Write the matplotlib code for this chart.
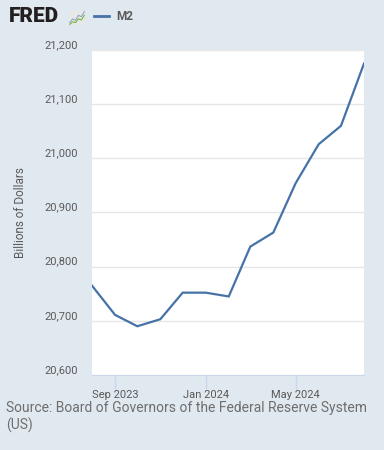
import matplotlib.pyplot as plt
import matplotlib.transforms as mtransforms
from datetime import date

plt.rcParams["font.family"] = ["Roboto", "DejaVu Sans"]

months = [date(2023, 8, 1), date(2023, 9, 1), date(2023, 10, 1), date(2023, 11, 1),
          date(2023, 12, 1), date(2024, 1, 1), date(2024, 2, 1), date(2024, 3, 1),
          date(2024, 4, 1), date(2024, 5, 1), date(2024, 6, 1), date(2024, 7, 1),
          date(2024, 8, 1)]
m2 = [20765, 20711, 20690, 20703, 20752, 20752, 20745, 20837,
      20863, 20954, 21026, 21060, 21175]
yticks = [20600, 20700, 20800, 20900, 21000, 21100, 21200]
xticks = [date(2023, 9, 1), date(2024, 1, 1), date(2024, 5, 1)]
xlabels = ["Sep 2023", "Jan 2024", "May 2024"]

# little sparkline in the FRED logo
icon_blue = [1, 2, 1.6, 3, 2.6, 4]
icon_green = [0.5, 1.2, 1.0, 2.0, 1.7, 3.0]

BG = "#e1e9f0"
LINE = "#4572a7"
TXT = "#595959"

fig = plt.figure(figsize=(3.84, 4.5), dpi=100, facecolor=BG)
ax = fig.add_axes([92 / 384, 75 / 450, 272 / 384, 325 / 450])
ax.set_facecolor("white")

ax.plot(months, m2, color=LINE, linewidth=1.6, solid_joinstyle="miter")

ax.set_xlim(months[0], months[-1])
ax.set_ylim(20600, 21200)
ax.set_yticks(yticks)
ax.set_yticklabels([f"{v:,}" for v in yticks])
ax.set_xticks(xticks)
ax.set_xticklabels(xlabels)

ax.grid(axis="y", color="#e6e6e6", linewidth=1)
ax.set_axisbelow(True)
for s in ["top", "right", "left"]:
    ax.spines[s].set_visible(False)
ax.spines["bottom"].set_color("#ccd6eb")
ax.tick_params(axis="y", length=0, pad=10, labelsize=8, labelcolor=TXT)
ax.tick_params(axis="x", length=10, width=1, color="#ccd6eb", pad=1,
               labelsize=8, labelcolor=TXT)

# FRED puts the y labels slightly above the gridlines
off = mtransforms.ScaledTranslation(0, 6 / 100, fig.dpi_scale_trans)
for lab in ax.get_yticklabels():
    lab.set_transform(lab.get_transform() + off)

ax.set_ylabel("Billions of Dollars", fontsize=8.5, color=TXT, labelpad=13)

# header: logo + legend
fig.text(9 / 384, 1 - 17 / 450, "FRED", fontsize=15, fontweight="heavy",
         color="#231f20", va="center", ha="left")
icon = fig.add_axes([69 / 384, 1 - 25 / 450, 16 / 384, 14 / 450])
icon.set_facecolor("#e8e8e8")
icon.plot(icon_blue, color="#8fa8c8", linewidth=0.8)
icon.plot(icon_green, color="#7cb342", linewidth=0.8)
icon.set_xticks([])
icon.set_yticks([])
for s in icon.spines.values():
    s.set_visible(False)

fig.lines.append(plt.Line2D([94 / 384, 109 / 384], [1 - 16 / 450, 1 - 16 / 450],
                            color=LINE, linewidth=2, transform=fig.transFigure))
fig.text(116 / 384, 1 - 16 / 450, "M2", fontsize=8.5, fontweight="bold",
         color=TXT, va="center", ha="left")

fig.text(6 / 384, 1 - 417 / 450,
         "Source: Board of Governors of the Federal Reserve System\n(US)",
         fontsize=10, color="#6e6e6e", va="center", ha="left", linespacing=1.25)

fig.savefig("out.png", dpi=100, facecolor=BG)
